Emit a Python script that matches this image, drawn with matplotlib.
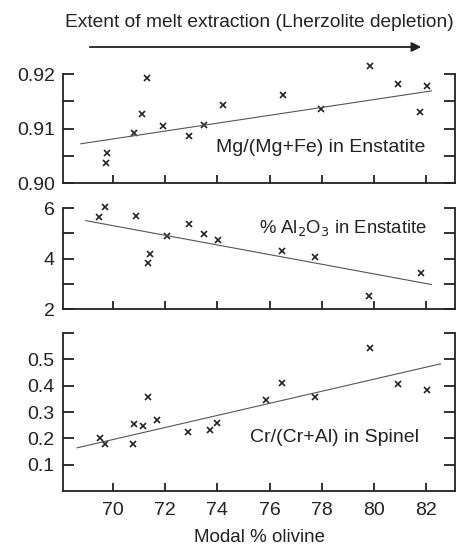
import numpy as np
import matplotlib
matplotlib.use('Agg')
import matplotlib.pyplot as plt

plt.rcParams['font.family'] = ['Liberation Sans', 'DejaVu Sans']

# modal % olivine and compositions
mg_x = [69.77, 69.74, 70.80, 71.12, 71.31, 71.92, 72.92, 73.50, 74.21, 76.53, 77.98, 79.84, 80.93, 81.74, 82.03]
mg_y = [0.9055, 0.9036, 0.9092, 0.9127, 0.9193, 0.9104, 0.9087, 0.9107, 0.9143, 0.9161, 0.9135, 0.9214, 0.9181, 0.9130, 0.9178]
mg_fit_x = [68.78, 82.19]
mg_fit_y = [0.9072, 0.9169]

al_x = [69.48, 69.70, 70.89, 71.35, 71.42, 72.06, 72.90, 73.50, 74.03, 76.48, 77.75, 79.81, 81.79]
al_y = [5.63, 6.04, 5.67, 3.84, 4.18, 4.91, 5.38, 4.96, 4.75, 4.29, 4.05, 2.51, 3.42]
al_fit_x = [68.97, 82.19]
al_fit_y = [5.50, 2.97]

cr_x = [69.51, 69.70, 70.80, 70.77, 71.16, 71.33, 71.69, 72.87, 73.72, 73.97, 75.86, 76.46, 77.75, 79.85, 80.93, 82.01]
cr_y = [0.200, 0.177, 0.255, 0.177, 0.247, 0.356, 0.269, 0.224, 0.231, 0.259, 0.346, 0.412, 0.358, 0.544, 0.405, 0.382]
cr_fit_x = [68.64, 82.54]
cr_fit_y = [0.164, 0.483]

x_ticks = [70, 72, 74, 76, 78, 80, 82]

fig = plt.figure(figsize=(4.64, 5.47), dpi=100)
left, width = 0.136, 0.845
ax1 = fig.add_axes([left, 0.6654, width, 0.8647 - 0.6654])
ax2 = fig.add_axes([left, 0.4351, width, 0.6197 - 0.4351])
ax3 = fig.add_axes([left, 0.1024, width, 0.3912 - 0.1024])

panels = [
    (ax1, mg_x, mg_y, mg_fit_x, mg_fit_y),
    (ax2, al_x, al_y, al_fit_x, al_fit_y),
    (ax3, cr_x, cr_y, cr_fit_x, cr_fit_y),
]
for ax, x, y, fx, fy in panels:
    ax.plot(x, y, 'x', color='#222222', ms=4, mew=1.2, clip_on=False)
    ax.plot(fx, fy, '-', color='#555555', lw=0.8)
    ax.set_xlim(68.1, 83.1)
    ax.set_xticks(x_ticks)
    ax.spines['top'].set_visible(False)
    for s in ['left', 'right', 'bottom']:
        ax.spines[s].set_linewidth(1.3)
        ax.spines[s].set_color('#222222')
    ax.tick_params(axis='y', which='both', direction='in', left=True, right=True,
                   length=8, width=1.3, labelsize=14, colors='#222222', pad=6)
    ax.tick_params(axis='x', direction='in', length=6, width=1.3, labelsize=14,
                   colors='#222222', pad=8)

ax1.set_ylim(0.90, 0.92)
ax1.set_yticks([0.90, 0.905, 0.91, 0.915, 0.92])
ax1.set_yticklabels(['0.90', '', '0.91', '', '0.92'])
ax1.set_xticklabels([])
ax1.text(81.95, 0.9065, 'Mg/(Mg+Fe) in Enstatite', ha='right', va='center', fontsize=14, color='#222222')

ax2.set_ylim(2, 6)
ax2.set_yticks([2, 3, 4, 5, 6])
ax2.set_yticklabels(['2', '', '4', '', '6'])
ax2.set_xticklabels([])
ax2.text(82.03, 5.22, '% Al$_2$O$_3$ in Enstatite', ha='right', va='center', fontsize=13.3, color='#222222')

ax3.set_ylim(0, 0.6)
ax3.set_yticks([0.1, 0.2, 0.3, 0.4, 0.5, 0.6])
ax3.set_yticklabels(['0.1', '0.2', '0.3', '0.4', '0.5', ''])
ax3.set_xlabel('Modal % olivine', fontsize=13.5, color='#222222', labelpad=7)
ax3.text(81.7, 0.205, 'Cr/(Cr+Al) in Spinel', ha='right', va='center', fontsize=14, color='#222222')

fig.text(0.558, 0.958, 'Extent of melt extraction (Lherzolite depletion)', ha='center', va='center',
         fontsize=13.8, color='#222222')
fig.add_artist(matplotlib.patches.FancyArrowPatch((87 / 464, 1 - 47 / 547), (424 / 464, 1 - 47 / 547),
                                                  transform=fig.transFigure, arrowstyle='-|>',
                                                  mutation_scale=14, lw=1.3, color='#222222'))

fig.savefig('out.png', dpi=100)
